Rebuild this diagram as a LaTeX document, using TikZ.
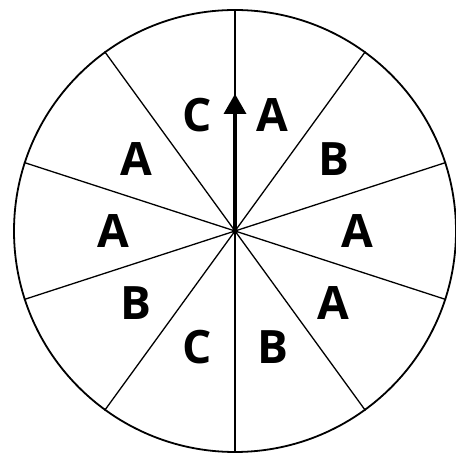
\documentclass[tikz,border=0pt]{standalone}
\usepackage{fontspec}
\setmainfont{Open Sans}
\usetikzlibrary{calc}
\begin{document}
\begin{tikzpicture}[x=1pt,y=-1pt,
  rim/.style={line width=1.8pt},
  spoke/.style={line width=1.3pt},
  lbl/.style={font=\fontsize{46}{46}\selectfont\bfseries, inner sep=0pt},
  shaft/.style={line width=4pt}]
\useasboundingbox (0,0) rectangle (456,454);
\coordinate (c) at (235,231);
\node[circle, draw, rim, minimum size=442pt, inner sep=0pt] (wheel) at (c) {};
\foreach \a in {90,54,18,-18,-54,-90,-126,-162,162,126} {
  \draw[spoke] (c) -- (wheel.\a);
}
\foreach \a/\t/\n in {72/A/l1,36/B/l2,0/A/l3,-36/A/l4,-72/B/l5,-108/C/l6,-144/B/l7,180/A/l8,144/A/l9,108/C/l10} {
  \node[lbl] (\n) at ($(c)+(\a:122pt)$) {\t};
}
\coordinate (tip) at (235,94);
\coordinate (base) at (235,114);
\draw[shaft] (c) -- (base);
\fill (tip) -- ($(base)+(-11.5,0)$) -- ($(base)+(11.5,0)$) -- cycle;
\fill (c) circle (3pt);
\end{tikzpicture}
\end{document}
